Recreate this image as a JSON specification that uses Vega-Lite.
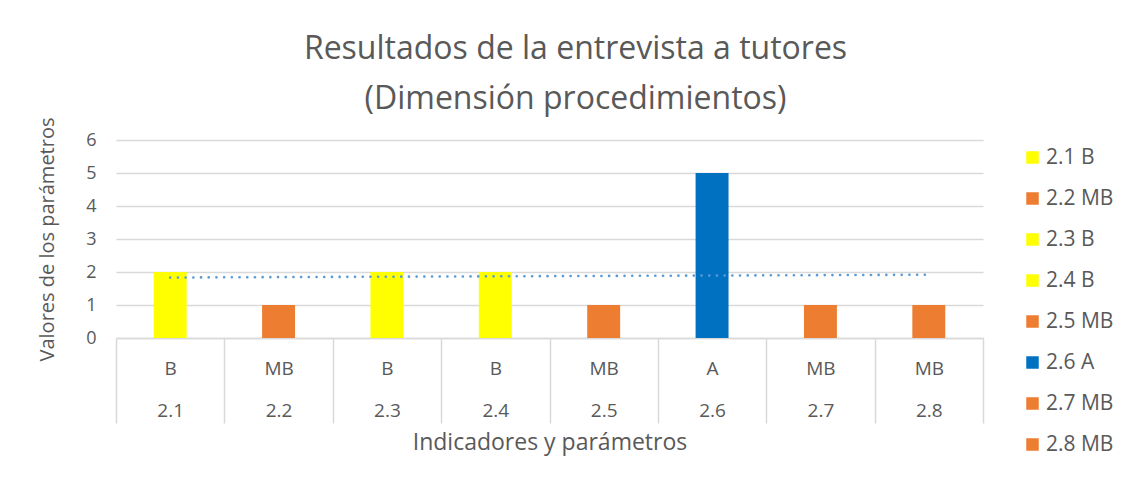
{
  "$schema": "https://vega.github.io/schema/vega-lite/v6.json",
  "width": 867,
  "height": 198,
  "autosize": {"type": "none"},
  "padding": {"left": 116, "top": 140, "right": 148, "bottom": 144},
  "background": "white",
  "title": {
    "text": ["Resultados de la entrevista a tutores", "(Dimensión procedimientos)"],
    "fontSize": 32,
    "font": "Open Sans",
    "fontWeight": "normal",
    "color": "#595959",
    "lineHeight": 50,
    "offset": 1,
    "anchor": "middle",
    "dx": 26
  },
  "config": {"view": {"stroke": null}, "font": "Open Sans"},
  "data": {
    "values": [
      {"eje": "B|2.1", "leyenda": "2.1 B", "valor": 2, "tendencia": 1.833},
      {"eje": "MB|2.2", "leyenda": "2.2 MB", "valor": 1, "tendencia": 1.845},
      {"eje": "B|2.3", "leyenda": "2.3 B", "valor": 2, "tendencia": 1.857},
      {"eje": "B|2.4", "leyenda": "2.4 B", "valor": 2, "tendencia": 1.869},
      {"eje": "MB|2.5", "leyenda": "2.5 MB", "valor": 1, "tendencia": 1.881},
      {"eje": "A|2.6", "leyenda": "2.6 A", "valor": 5, "tendencia": 1.893},
      {"eje": "MB|2.7", "leyenda": "2.7 MB", "valor": 1, "tendencia": 1.905},
      {"eje": "MB|2.8", "leyenda": "2.8 MB", "valor": 1, "tendencia": 1.917}
    ]
  },
  "encoding": {
    "x": {
      "field": "eje",
      "type": "nominal",
      "sort": null,
      "scale": {"paddingInner": 0, "paddingOuter": 0},
      "axis": {
        "title": "Indicadores y parámetros",
        "labelAngle": 0,
        "labelExpr": "split(datum.label, '|')",
        "labelFont": "Open Sans",
        "labelFontSize": 19,
        "labelColor": "#595959",
        "labelLineHeight": 42,
        "labelBaseline": "top",
        "labelPadding": -64,
        "tickBand": "extent",
        "tickSize": 85,
        "tickColor": "#d9d9d9",
        "tickWidth": 1.5,
        "domainColor": "#d9d9d9",
        "domainWidth": 1.5,
        "titleFont": "Open Sans",
        "titleFontSize": 23,
        "titleColor": "#595959",
        "titleFontWeight": "normal",
        "titlePadding": 8
      }
    }
  },
  "layer": [
    {
      "mark": {"type": "bar", "width": {"band": 0.304}},
      "encoding": {
        "y": {
          "field": "valor",
          "type": "quantitative",
          "title": "Valores de los parámetros",
          "scale": {"domain": [0, 6], "nice": false},
          "axis": {
            "values": [0, 1, 2, 3, 4, 5, 6],
            "labelOverlap": false,
            "domain": false,
            "ticks": false,
            "grid": true,
            "gridColor": "#d9d9d9",
            "gridWidth": 1.5,
            "labelFont": "Open Sans",
            "labelFontSize": 18,
            "labelColor": "#595959",
            "labelPadding": 20,
            "titleFont": "Open Sans",
            "titleFontSize": 20,
            "titleColor": "#595959",
            "titleFontWeight": "normal",
            "titlePadding": 28
          }
        },
        "color": {
          "field": "leyenda",
          "type": "nominal",
          "sort": null,
          "scale": {
            "domain": ["2.1 B", "2.2 MB", "2.3 B", "2.4 B", "2.5 MB", "2.6 A", "2.7 MB", "2.8 MB"],
            "range": ["#FFFF00", "#ED7D31", "#FFFF00", "#FFFF00", "#ED7D31", "#0070C0", "#ED7D31", "#ED7D31"]
          },
          "legend": {
            "title": null,
            "orient": "right",
            "offset": 32,
            "padding": 7,
            "symbolType": "square",
            "symbolSize": 156,
            "symbolStrokeWidth": 0,
            "symbolOpacity": 1,
            "labelFont": "Open Sans",
            "labelFontSize": 21,
            "labelColor": "#595959",
            "labelOffset": 3,
            "rowPadding": 19
          }
        }
      }
    },
    {
      "mark": {
        "type": "line",
        "color": "#5B9BD5",
        "strokeWidth": 2.6,
        "strokeDash": [0.1, 7.6],
        "strokeCap": "round"
      },
      "encoding": {
        "y": {
          "field": "tendencia",
          "type": "quantitative",
          "title": "Valores de los parámetros",
          "axis": {
            "values": [0, 1, 2, 3, 4, 5, 6],
            "labelOverlap": false,
            "domain": false,
            "ticks": false,
            "grid": true,
            "gridColor": "#d9d9d9",
            "gridWidth": 1.5,
            "labelFont": "Open Sans",
            "labelFontSize": 18,
            "labelColor": "#595959",
            "labelPadding": 20,
            "titleFont": "Open Sans",
            "titleFontSize": 20,
            "titleColor": "#595959",
            "titleFontWeight": "normal",
            "titlePadding": 28
          }
        }
      }
    }
  ]
}
